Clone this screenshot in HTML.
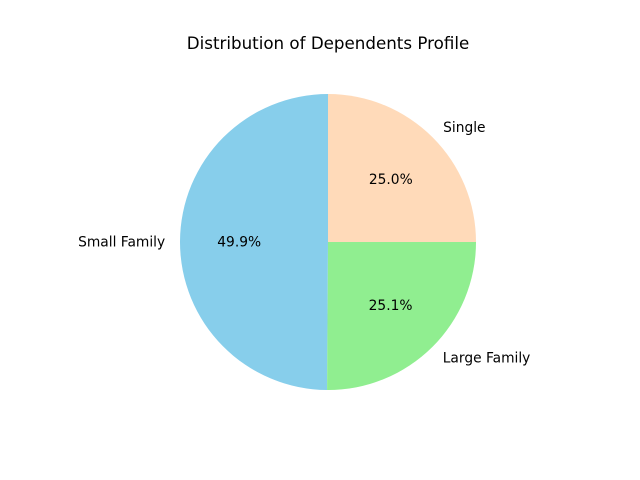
<!DOCTYPE html>
<html><head><meta charset="utf-8"><style>
html,body{margin:0;padding:0;background:#fff;}
svg{display:block;font-family:"DejaVu Sans","Liberation Sans",sans-serif;}
</style></head><body>
<svg id="chart" width="640" height="480" viewBox="0 0 640 480">
<rect width="640" height="480" fill="#fff"/>
<text x="328" y="49" text-anchor="middle" font-size="16.7" fill="#000">Distribution of Dependents Profile</text>
<g id="slices"></g>
</svg>
<script>
const categories = ["Small Family", "Large Family", "Single"];
const values = [49.9, 25.1, 25.0];
const colors = ["#87CEEB", "#90EE90", "#FFDAB9"];
const cx = 328, cy = 242, r = 148, startAngle = 90;
const g = document.getElementById('slices');
const ns = 'http://www.w3.org/2000/svg';
const total = values.reduce((a,b)=>a+b,0);
function pt(deg, rad){const a=deg*Math.PI/180;return [cx+rad*Math.cos(a), cy-rad*Math.sin(a)];}
let ang = startAngle;
values.forEach((v,i)=>{
  const sweep = v/total*360;
  const a0 = ang, a1 = ang+sweep;
  const p0 = pt(a0,r), p1 = pt(a1,r);
  const large = sweep>180?1:0;
  const path = document.createElementNS(ns,'path');
  path.setAttribute('d',`M${cx},${cy} L${p0[0]},${p0[1]} A${r},${r} 0 ${large} 0 ${p1[0]},${p1[1]} Z`);
  path.setAttribute('fill',colors[i]);
  
  
  g.appendChild(path);
  const mid = (a0+a1)/2;
  const lp = pt(mid, r*1.1);
  const c = Math.cos(mid*Math.PI/180);
  const lab = document.createElementNS(ns,'text');
  lab.setAttribute('x',lp[0]); lab.setAttribute('y',lp[1]+5);
  lab.setAttribute('font-size','13.8');
  lab.setAttribute('text-anchor', c>0.01?'start':(c<-0.01?'end':'middle'));
  lab.textContent = categories[i];
  
  
  g.appendChild(lab);
  const pp = pt(mid, r*0.6);
  const pct = document.createElementNS(ns,'text');
  pct.setAttribute('x',pp[0]); pct.setAttribute('y',pp[1]+5);
  pct.setAttribute('font-size','13.8');
  pct.setAttribute('text-anchor','middle');
  pct.textContent = v.toFixed(1)+'%';
  
  
  g.appendChild(pct);
  ang = a1;
});
</script>
</body></html>
